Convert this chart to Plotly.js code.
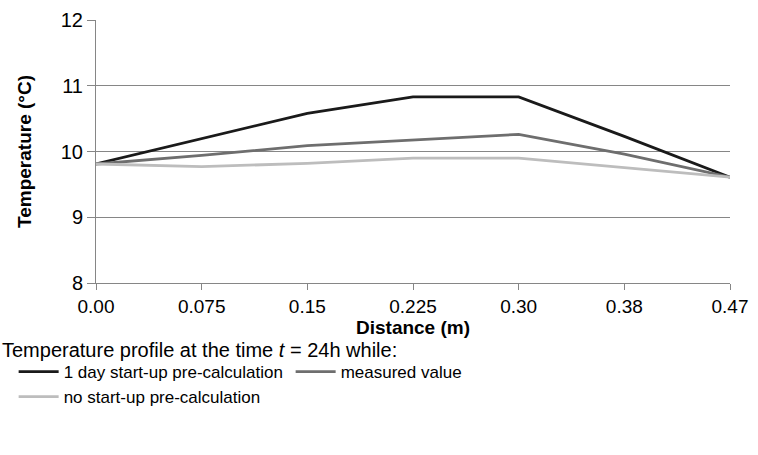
<!DOCTYPE html>
<html>
<head>
<meta charset="utf-8">
<script src="https://cdn.plot.ly/plotly-3.0.1.min.js"></script>
<style>html,body{margin:0;padding:0;background:#fff;}</style>
</head>
<body>
<div id="chart" style="width:758px;height:455px;"></div>
<script>
const distance = ["0.00", "0.075", "0.15", "0.225", "0.30", "0.38", "0.47"];
const oneDayPreCalc = [9.81, 10.20, 10.58, 10.83, 10.83, 10.23, 9.61];
const measuredValue = [9.81, 9.94, 10.09, 10.17, 10.26, 9.96, 9.61];
const noPreCalc = [9.81, 9.77, 9.82, 9.90, 9.90, 9.75, 9.61];
const seriesNames = ['1 day start-up pre-calculation', 'measured value', 'no start-up pre-calculation'];
const legendHeading = 'Temperature profile at the time <i>t</i> = 24h while:';

const FONT = '"Liberation Sans", Arial, sans-serif';
const AX = '#868686';

const traces = [
  {x: distance, y: oneDayPreCalc, name: seriesNames[0], mode: 'lines',
   line: {color: '#1a1a1a', width: 2.8}},
  {x: distance, y: measuredValue, name: seriesNames[1], mode: 'lines',
   line: {color: '#6e6e6e', width: 2.8}},
  {x: distance, y: noPreCalc, name: seriesNames[2], mode: 'lines',
   line: {color: '#bdbdbd', width: 2.8}}
];

const layout = {
  width: 758, height: 455,
  margin: {l: 96, r: 28, t: 20, b: 172},
  paper_bgcolor: '#fff', plot_bgcolor: '#fff',
  font: {family: FONT, size: 19, color: '#000'},
  showlegend: true,
  xaxis: {
    type: 'category', range: [0, 6],
    showgrid: false, zeroline: false,
    showline: true, linecolor: AX, linewidth: 1,
    ticks: 'outside', ticklen: 6, tickcolor: AX,
    tickfont: {family: FONT, size: 19},
    title: {text: '<b>Distance (m)</b>', font: {family: FONT, size: 19}, standoff: 2}
  },
  yaxis: {
    range: [8, 12], dtick: 1, tickformat: 'd',
    showgrid: true, gridcolor: AX, gridwidth: 1,
    zeroline: false,
    showline: true, linecolor: AX, linewidth: 1,
    ticks: 'outside', ticklen: 8, tickcolor: AX,
    tickfont: {family: FONT, size: 20},
    title: {text: '<b>Temperature (°C)</b>', font: {family: FONT, size: 19}, standoff: 24}
  },
  annotations: [{
    text: legendHeading, xref: 'paper', yref: 'paper',
    x: -0.152, xanchor: 'left', y: -0.255, yanchor: 'middle',
    showarrow: false, font: {family: FONT, size: 20, color: '#000'}
  }],
  legend: {
    orientation: 'h',
    xref: 'container', yref: 'container',
    x: 0.018, xanchor: 'left', y: 0.222, yanchor: 'top',
    entrywidth: 222, entrywidthmode: 'pixels',
    tracegroupgap: 0, itemwidth: 40,
    font: {family: FONT, size: 17},
    bgcolor: 'rgba(0,0,0,0)'
  }
};

Plotly.newPlot('chart', traces, layout, {displayModeBar: false, staticPlot: true});
</script>
</body>
</html>
